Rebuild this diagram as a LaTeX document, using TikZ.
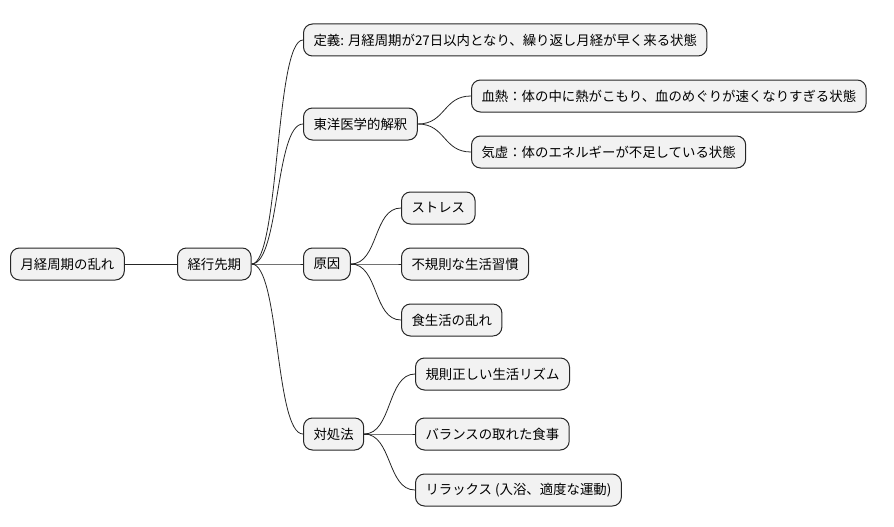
\documentclass[tikz,border=0pt]{standalone}
\usepackage{fontspec}
\setmainfont{Noto Sans CJK JP}
\begin{document}
\begin{tikzpicture}[x=1pt,y=-1pt,
  box/.style={draw=black!85, fill=gray!10, rounded corners=9pt, line width=1pt,
    minimum height=32pt, inner xsep=10pt, anchor=west, font=\fontsize{13.4}{15}\selectfont},
  link/.style={draw=black!85, line width=0.8pt}]
\useasboundingbox (0,0) rectangle (894,527);

% root and first level
\node[box] (root) at (10,264) {月経周期の乱れ};
\node[box] (main) at (177,264) {経行先期};

% second level
\node[box] (def) at (303,40) {定義: 月経周期が27日以内となり、繰り返し月経が早く来る状態};
\node[box] (east) at (303,124) {東洋医学的解釈};
\node[box] (cause) at (303,264) {原因};
\node[box] (cure) at (303,434) {対処法};

% leaves
\node[box] (heat) at (471,96) {血熱：体の中に熱がこもり、血のめぐりが速くなりすぎる状態};
\node[box] (qi) at (471,152) {気虚：体のエネルギーが不足している状態};
\node[box] (stress) at (401,208) {ストレス};
\node[box] (irreg) at (401,264) {不規則な生活習慣};
\node[box] (diet) at (401,320) {食生活の乱れ};
\node[box] (rhythm) at (415,374) {規則正しい生活リズム};
\node[box] (meal) at (415,434) {バランスの取れた食事};
\node[box] (relax) at (415,490) {リラックス (入浴、適度な運動)};

% connectors
\draw[link] (root.east) -- (main.west);
\foreach \a/\b in {main/def,main/east,main/cause,main/cure,
    east/heat,east/qi,cause/stress,cause/irreg,cause/diet,
    cure/rhythm,cure/meal,cure/relax}
  \draw[link] (\a.east) .. controls +(28,0) and +(-28,0) .. (\b.west);
\end{tikzpicture}
\end{document}
